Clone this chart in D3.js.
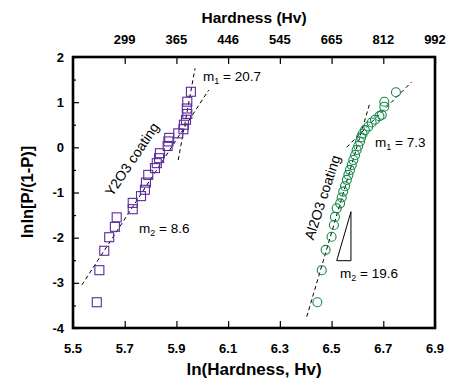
<!DOCTYPE html>
<html>
<head>
<meta charset="utf-8">
<script src="https://cdn.jsdelivr.net/npm/d3@7/dist/d3.min.js"></script>
<style>
  body { margin: 0; background: #fff; }
  text { font-family: "Liberation Sans", Arial, sans-serif; }
</style>
</head>
<body>
<div id="viz"></div>
<script>
// Weibull plot of coating hardness
var y2o3X = [5.592, 5.602, 5.621, 5.640, 5.662, 5.669, 5.731, 5.731, 5.763, 5.778, 5.782, 5.791,
             5.817, 5.824, 5.833, 5.836, 5.866, 5.869, 5.872, 5.907, 5.927, 5.929, 5.937, 5.942,
             5.940, 5.942, 5.956];
var y2o3Y = [-3.43, -2.72, -2.29, -1.99, -1.76, -1.55, -1.37, -1.23, -1.08, -0.94, -0.78, -0.61,
             -0.46, -0.35, -0.24, -0.13, 0.03, 0.13, 0.21, 0.31, 0.40, 0.50, 0.61, 0.74,
             0.86, 1.01, 1.23];
var al2o3X = [6.445, 6.462, 6.477, 6.500, 6.509, 6.513, 6.520, 6.533, 6.539, 6.545, 6.552, 6.559,
              6.565, 6.571, 6.578, 6.584, 6.591, 6.597, 6.603, 6.610, 6.614, 6.620, 6.629, 6.642,
              6.655, 6.668, 6.685, 6.694, 6.704, 6.704, 6.749];
var al2o3Y = [-3.43, -2.72, -2.27, -1.98, -1.72, -1.54, -1.35, -1.24, -1.11, -0.98, -0.86, -0.72,
              -0.61, -0.50, -0.39, -0.28, -0.17, -0.06, 0.03, 0.13, 0.22, 0.30, 0.38, 0.46,
              0.55, 0.61, 0.69, 0.72, 0.90, 1.01, 1.22];

// dashed fit lines (end points)
var y2o3FitM1 = [[5.907, -0.28], [5.972, 1.75]];
var y2o3FitM2 = [[5.534, -3.05], [6.025, 1.27]];
var al2o3FitM1 = [[6.558, 0.0], [6.810, 1.45]];
var al2o3FitM2 = [[6.404, -3.75], [6.646, 0.94]];
var slopeTriangle = [[6.575, -1.425], [6.520, -2.51], [6.575, -2.51]];

var xTicks = [5.5, 5.7, 5.9, 6.1, 6.3, 6.5, 6.7, 6.9];
var topTicks = [5.7, 5.9, 6.1, 6.3, 6.5, 6.7, 6.9];
var topLabels = ["299", "365", "446", "545", "665", "812", "992"];
var yTicks = [-4, -3, -2, -1, 0, 1, 2];

var width = 449, height = 385;
var pLeft = 73, pRight = 435, pTop = 57, pBottom = 328;

var svg = d3.select("#viz").append("svg")
    .attr("width", width).attr("height", height);

var x = d3.scaleLinear().domain([5.5, 6.9]).range([pLeft, pRight]);
var y = d3.scaleLinear().domain([-4, 2]).range([pBottom, pTop]);

// axes (ticks point inward)
svg.append("g").attr("transform", "translate(0," + pBottom + ")")
  .call(d3.axisBottom(x).tickValues(xTicks).tickSize(-7).tickFormat(""))
  .call(g => g.select(".domain").remove());
svg.append("g").attr("transform", "translate(0," + pTop + ")")
  .call(d3.axisTop(x).tickValues(topTicks).tickSize(-7).tickFormat(""))
  .call(g => g.select(".domain").remove());
svg.append("g").attr("transform", "translate(" + pLeft + ",0)")
  .call(d3.axisLeft(y).tickValues(yTicks).tickSize(-6).tickFormat(""))
  .call(g => g.select(".domain").remove());
svg.append("g").attr("transform", "translate(" + pLeft + ",0)")
  .call(d3.axisLeft(y).tickValues(d3.range(-3.5, 2, 1)).tickSize(-3).tickFormat(""))
  .call(g => g.select(".domain").remove());
svg.selectAll(".tick line").attr("stroke", "#000").attr("stroke-width", 1.2);

svg.append("rect")
  .attr("x", pLeft).attr("y", pTop)
  .attr("width", pRight - pLeft).attr("height", pBottom - pTop)
  .attr("fill", "none").attr("stroke", "#000").attr("stroke-width", 2.6);

// tick labels
svg.selectAll(".xl").data(xTicks).enter().append("text")
  .attr("x", d => x(d)).attr("y", 353)
  .attr("text-anchor", "middle").attr("font-size", 13).attr("font-weight", "bold")
  .text(d => d.toFixed(1));
svg.selectAll(".tl").data(topTicks).enter().append("text")
  .attr("x", d => x(d)).attr("y", 44)
  .attr("text-anchor", "middle").attr("font-size", 13).attr("font-weight", "bold")
  .text((d, i) => topLabels[i]);
svg.selectAll(".yl").data(yTicks).enter().append("text")
  .attr("x", 64).attr("y", d => y(d) + 4.5)
  .attr("text-anchor", "end").attr("font-size", 13).attr("font-weight", "bold")
  .text(d => d);

// axis titles
svg.append("text").attr("x", 254).attr("y", 375)
  .attr("text-anchor", "middle").attr("font-size", 17).attr("font-weight", "bold")
  .text("ln(Hardness, Hv)");
svg.append("text").attr("x", 254).attr("y", 23)
  .attr("text-anchor", "middle").attr("font-size", 15.5).attr("font-weight", "bold")
  .text("Hardness (Hv)");
svg.append("text").attr("transform", "translate(33,192) rotate(-90)")
  .attr("text-anchor", "middle").attr("font-size", 16.5).attr("font-weight", "bold")
  .text("lnln[P/(1-P)]");

// fit lines
var line = d3.line().x(d => x(d[0])).y(d => y(d[1]));
[y2o3FitM1, y2o3FitM2, al2o3FitM1, al2o3FitM2].forEach(function (seg) {
  svg.append("path").attr("d", line(seg))
    .attr("fill", "none").attr("stroke", "#000").attr("stroke-width", 1)
    .attr("stroke-dasharray", "4,3");
});
svg.append("path").attr("d", line(slopeTriangle) + "Z")
  .attr("fill", "none").attr("stroke", "#000").attr("stroke-width", 1);

// markers
var y2o3 = y2o3X.map((v, i) => [v, y2o3Y[i]]);
var al2o3 = al2o3X.map((v, i) => [v, al2o3Y[i]]);
svg.selectAll(".sq").data(y2o3).enter().append("rect")
  .attr("x", d => x(d[0]) - 4.5).attr("y", d => y(d[1]) - 4.5)
  .attr("width", 9).attr("height", 9)
  .attr("fill", "none").attr("stroke", "#5b2a9a").attr("stroke-width", 1.1);
svg.selectAll(".ci").data(al2o3).enter().append("circle")
  .attr("cx", d => x(d[0])).attr("cy", d => y(d[1])).attr("r", 4.5)
  .attr("fill", "none").attr("stroke", "#12894a").attr("stroke-width", 1.1);

// annotations
function slopeLabel(px, py, sub, val) {
  var t = svg.append("text").attr("x", px).attr("y", py).attr("font-size", 13.5);
  t.append("tspan").text("m");
  t.append("tspan").attr("font-size", 9).attr("dy", 3).text(sub);
  t.append("tspan").attr("dy", -3).text(" = " + val);
}
slopeLabel(203, 81, "1", "20.7");
slopeLabel(139, 233, "2", "8.6");
slopeLabel(375, 147, "1", "7.3");
slopeLabel(340, 278, "2", "19.6");

svg.append("text").attr("transform", "translate(136,162) rotate(-56)")
  .attr("text-anchor", "middle").attr("font-size", 14).text("Y2O3 coating");
svg.append("text").attr("transform", "translate(327,199) rotate(-72)")
  .attr("text-anchor", "middle").attr("font-size", 14).text("Al2O3 coating");
</script>
</body>
</html>
